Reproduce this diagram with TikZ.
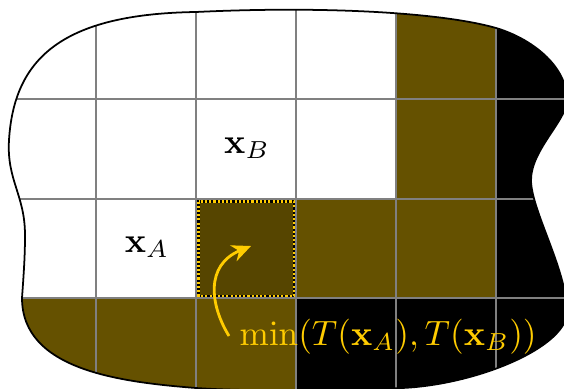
\documentclass[tikz,border=0pt]{standalone}
\usetikzlibrary{arrows.meta}
\definecolor{cellbrown}{RGB}{101,81,0}
\definecolor{celldark}{RGB}{86,69,0}
\definecolor{gold}{RGB}{255,204,0}
\definecolor{gridgray}{RGB}{128,128,128}
\tikzset{
  gridline/.style={draw=gridgray, line width=0.6pt},
  blobline/.style={draw=black, line width=0.5pt},
  goldtext/.style={text=gold, inner sep=0pt},
  marktext/.style={inner sep=0pt},
}
\begin{document}
\begin{tikzpicture}[x=0.01cm,y=-0.01cm]
\useasboundingbox (0,0) rectangle (564,388);
\def\blob{(9,140) .. controls (14,60) and (60,14) .. (196,12)
 .. controls (320,6) and (440,12) .. (496,28)
 .. controls (530,38) and (567,65) .. (567,100)
 .. controls (567,120) and (531,150) .. (531,180)
 .. controls (531,210) and (567,270) .. (567,312)
 .. controls (567,350) and (460,392) .. (380,388)
 .. controls (300,391) and (240,391) .. (196,388)
 .. controls (120,382) and (22,370) .. (22,298)
 .. controls (24,270) and (25,255) .. (25,235)
 .. controls (25,195) and (6.5,180) .. (9,140) -- cycle}
\begin{scope}
  \clip \blob;
  \fill[white] (-10,-10) rectangle (600,400);
  % brown cells
  \fill[cellbrown] (396,-10) rectangle (496,298);
  \fill[cellbrown] (296,199) rectangle (396,298);
  \fill[cellbrown] (-10,298) rectangle (296,400);
  % black cells
  \fill[black] (496,-10) rectangle (600,298);
  \fill[black] (296,298) rectangle (600,400);
  % dark cell
  \fill[celldark] (196,199) rectangle (296,298);
  % grid
  \foreach \gx in {96,196,296,396,496} \draw[gridline] (\gx,-10) -- (\gx,400);
  \foreach \gy in {99,199,298} \draw[gridline] (-10,\gy) -- (600,\gy);
\end{scope}
\draw[blobline] \blob;
% highlighted cell border
\draw[black, line width=0.8pt] (198.5,201.5) rectangle (294,296);
\draw[gold, line width=0.8pt, dash pattern=on 0.6pt off 0.6pt] (198.5,201.5) rectangle (294,296);
% labels
\node[marktext] (xa) at (147,247) {$\mathbf{x}_A$};
\node[marktext] (xb) at (247,148) {$\mathbf{x}_B$};
\node[goldtext, anchor=base west] (minlbl) at (239,345) {$\min(T(\mathbf{x}_A),T(\mathbf{x}_B))$};
\coordinate (arrstart) at (229,336);
\coordinate (arrend) at (251,246);
\draw[gold, line width=0.8pt, -{Stealth[length=1.9mm,width=1.7mm]}]
  (arrstart) .. controls (210,305) and (205,265) .. (arrend);
\end{tikzpicture}
\end{document}
